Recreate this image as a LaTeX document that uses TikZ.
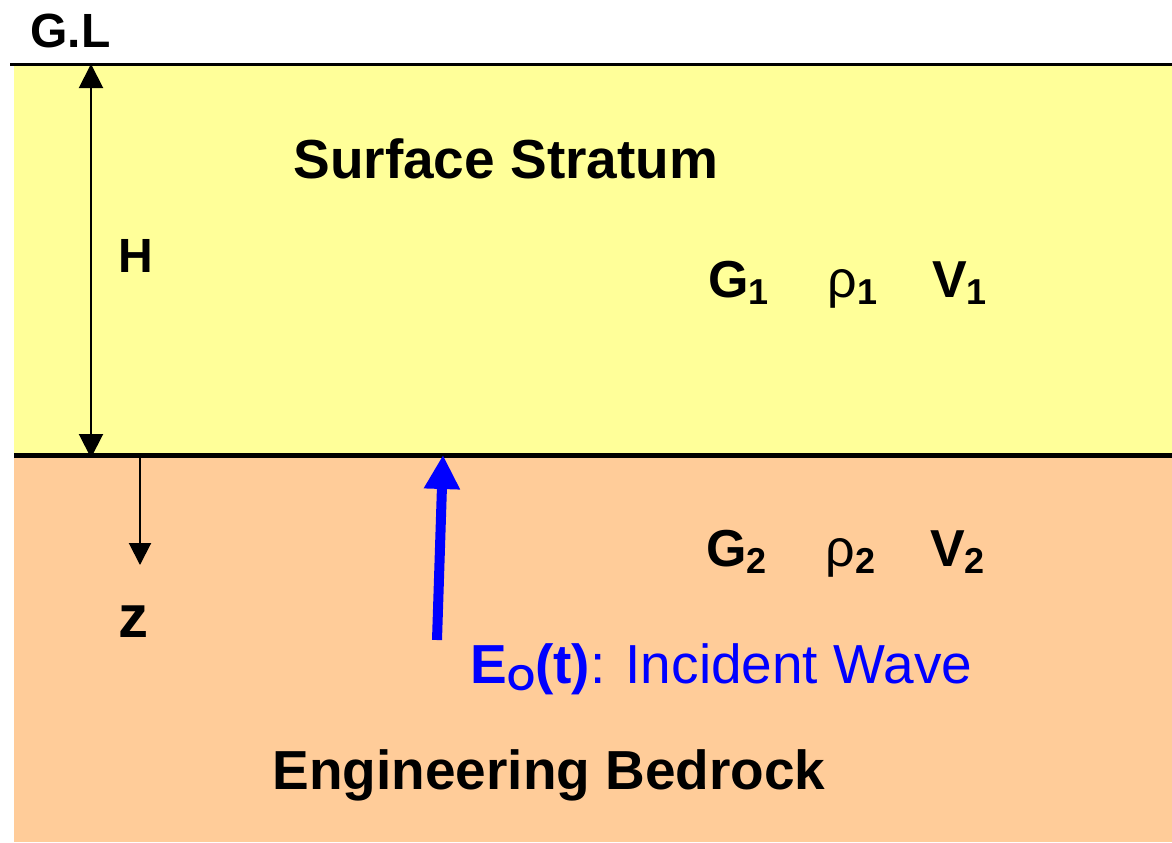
\documentclass[tikz,border=0pt]{standalone}
\usepackage{fontspec}
\setmainfont{Liberation Sans}
\usetikzlibrary{arrows.meta, positioning}

\definecolor{stratum}{RGB}{255,255,153}
\definecolor{bedrock}{RGB}{255,204,153}
\newcommand{\lowidx}[1]{\raisebox{-3.5pt}{\fontsize{18}{18}\selectfont\bfseries #1}}

\begin{document}
\begin{tikzpicture}[x=0.5pt, y=-0.5pt,
        title/.style={inner sep=0pt, anchor=base west, font=\fontsize{27.5}{30}\selectfont\bfseries},
        param/.style={inner sep=0pt, font=\fontsize{26}{30}\selectfont\bfseries},
        dim/.style={{Triangle[width=12pt,length=12pt]}-{Triangle[width=12pt,length=12pt]}, line width=1pt},
        axis/.style={-{Triangle[width=11pt,length=11pt]}, line width=1pt},
        wave/.style={-{Triangle[width=17pt,length=17pt]}, line width=5pt, blue}
    ]
        \useasboundingbox (0,0) rectangle (1172,842);

        % layers
        \fill[stratum] (14,64) rectangle (1172,455);
        \fill[bedrock] (14,455) rectangle (1172,842);
        \draw[line width=1.5pt] (10,64) -- (1172,64);
        \draw[line width=2.5pt] (14,455) -- (1172,455);

        \coordinate (gl) at (91,64);
        \coordinate (top) at (91,458);
        \coordinate (zstart) at (140,455);
        \coordinate (zend) at (140,565);
        \coordinate (src) at (437,640);
        \coordinate (hit) at (443,455);

        \node[title, font=\fontsize{24}{26}\selectfont\bfseries] (gllabel) at (30,47) {G.L};
        \node[title] (surface) at (293,178) {Surface Stratum};
        \node[title] (bedrock) at (272,789) {Engineering Bedrock};
        \node[title, font=\fontsize{24}{26}\selectfont\bfseries] (hlabel) at (118,272) {H};
        \node[title, font=\fontsize{30}{30}\selectfont\bfseries] (zlabel) at (118,637) {z};

        \node[param, anchor=base west] (g1) at (708,297) {G\lowidx{1}};
        \node[param, base right=29pt of g1] (rho1) {{\mdseries ρ}\lowidx{1}};
        \node[param, base right=27pt of rho1] (v1) {V\lowidx{1}};
        \node[param, anchor=base west] (g2) at (706,566) {G\lowidx{2}};
        \node[param, base right=29pt of g2] (rho2) {{\mdseries ρ}\lowidx{2}};
        \node[param, base right=27pt of rho2] (v2) {V\lowidx{2}};

        \node[title, font=\fontsize{27.5}{30}\selectfont, text=blue] (incident) at (470,683) {{\bfseries E\lowidx{O}(t)}: Incident Wave};

        \draw[dim] (gl) -- (top);
        \draw[axis] (zstart) -- (zend);
        \draw[wave] (src) -- (hit);

    \end{tikzpicture}
\end{document}
